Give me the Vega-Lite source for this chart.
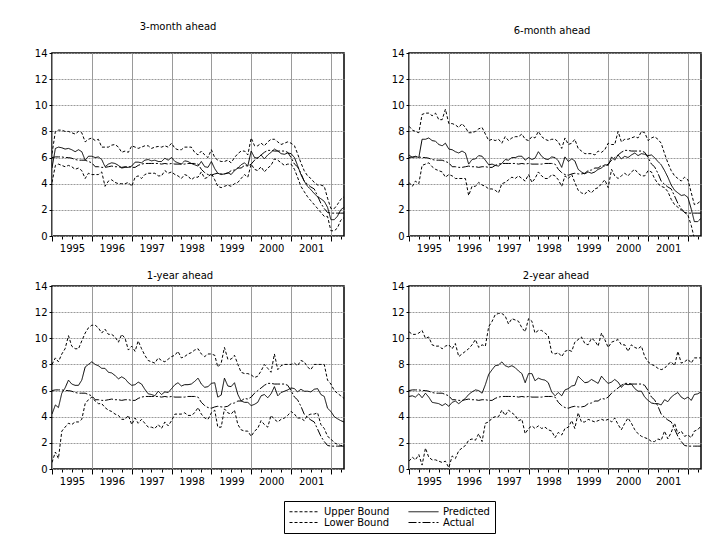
{
"$schema": "https://vega.github.io/schema/vega-lite/v6.json",
"padding": {"left": 33, "top": 21, "right": 5, "bottom": 2},
"background": "white",
"config": {
 "font": "DejaVu Sans",
 "view": {"stroke": "black", "strokeWidth": 1.5},
 "axis": {"labelFont": "DejaVu Sans", "labelFontSize": 10, "labelColor": "black", "tickColor": "black", "tickWidth": 1, "labelPadding": 2, "title": null, "domain": false},
 "title": {"font": "DejaVu Sans", "fontSize": 10, "fontWeight": "normal", "color": "black", "anchor": "middle"},
 "legend": {"title": null, "columns": 2, "direction": "horizontal", "symbolType": "M-3,0H3", "symbolSize": 100, "symbolOffset": 10, "symbolStrokeWidth": 1, "symbolStrokeColor": "black", "symbolFillColor": "transparent", "strokeColor": "black", "padding": 5, "labelFont": "DejaVu Sans", "labelFontSize": 10, "labelColor": "black", "columnPadding": 16, "rowPadding": -1, "labelOffset": 14}
},
"datasets": {
"p1": [
{"d":"1995-01","u":6.3,"p":5.2,"l":4.1,"a":6.0},
{"d":"1995-02","u":8.0,"p":6.7,"l":5.4,"a":6.05},
{"d":"1995-03","u":8.1,"p":6.8,"l":5.5,"a":6.05},
{"d":"1995-04","u":8.1,"p":6.75,"l":5.4,"a":6.05},
{"d":"1995-05","u":8.0,"p":6.65,"l":5.3,"a":6.0},
{"d":"1995-06","u":8.0,"p":6.7,"l":5.4,"a":6.0},
{"d":"1995-07","u":7.9,"p":6.6,"l":5.3,"a":5.95},
{"d":"1995-08","u":7.8,"p":6.45,"l":5.1,"a":5.85},
{"d":"1995-09","u":8.0,"p":6.6,"l":5.2,"a":5.8},
{"d":"1995-10","u":7.9,"p":6.45,"l":5.0,"a":5.8},
{"d":"1995-11","u":7.2,"p":5.8,"l":4.4,"a":5.8},
{"d":"1995-12","u":7.4,"p":6.1,"l":4.8,"a":5.7},
{"d":"1996-01","u":7.5,"p":6.1,"l":4.7,"a":5.6},
{"d":"1996-02","u":7.3,"p":6.0,"l":4.7,"a":5.3},
{"d":"1996-03","u":7.4,"p":6.05,"l":4.7,"a":5.3},
{"d":"1996-04","u":6.8,"p":5.85,"l":4.9,"a":5.25},
{"d":"1996-05","u":6.8,"p":5.3,"l":3.8,"a":5.25},
{"d":"1996-06","u":6.8,"p":5.5,"l":4.2,"a":5.3},
{"d":"1996-07","u":6.95,"p":5.6,"l":4.3,"a":5.35},
{"d":"1996-08","u":7.0,"p":5.55,"l":4.1,"a":5.3},
{"d":"1996-09","u":6.8,"p":5.4,"l":4.0,"a":5.3},
{"d":"1996-10","u":6.4,"p":5.2,"l":4.0,"a":5.25},
{"d":"1996-11","u":6.5,"p":5.25,"l":4.0,"a":5.3},
{"d":"1996-12","u":6.4,"p":5.25,"l":4.1,"a":5.3},
{"d":"1997-01","u":6.9,"p":5.35,"l":3.8,"a":5.25},
{"d":"1997-02","u":6.8,"p":5.65,"l":4.5,"a":5.25},
{"d":"1997-03","u":6.7,"p":5.65,"l":4.6,"a":5.4},
{"d":"1997-04","u":6.8,"p":5.6,"l":4.4,"a":5.5},
{"d":"1997-05","u":6.9,"p":5.8,"l":4.7,"a":5.55},
{"d":"1997-06","u":6.9,"p":5.85,"l":4.8,"a":5.55},
{"d":"1997-07","u":6.7,"p":5.75,"l":4.8,"a":5.55},
{"d":"1997-08","u":6.8,"p":5.8,"l":4.8,"a":5.55},
{"d":"1997-09","u":6.85,"p":5.7,"l":4.6,"a":5.55},
{"d":"1997-10","u":6.8,"p":5.7,"l":4.6,"a":5.5},
{"d":"1997-11","u":6.9,"p":5.95,"l":5.0,"a":5.55},
{"d":"1997-12","u":6.8,"p":5.8,"l":4.8,"a":5.5},
{"d":"1998-01","u":7.1,"p":6.0,"l":4.9,"a":5.55},
{"d":"1998-02","u":6.7,"p":5.7,"l":4.7,"a":5.5},
{"d":"1998-03","u":6.6,"p":5.6,"l":4.6,"a":5.5},
{"d":"1998-04","u":6.6,"p":5.5,"l":4.4,"a":5.5},
{"d":"1998-05","u":6.8,"p":5.75,"l":4.7,"a":5.5},
{"d":"1998-06","u":6.8,"p":5.7,"l":4.6,"a":5.55},
{"d":"1998-07","u":6.8,"p":5.55,"l":4.3,"a":5.55},
{"d":"1998-08","u":6.4,"p":5.45,"l":4.5,"a":5.55},
{"d":"1998-09","u":6.2,"p":5.35,"l":4.5,"a":5.5},
{"d":"1998-10","u":6.5,"p":5.7,"l":4.9,"a":5.1},
{"d":"1998-11","u":6.2,"p":5.3,"l":4.4,"a":4.85},
{"d":"1998-12","u":6.0,"p":5.25,"l":4.5,"a":4.7},
{"d":"1999-01","u":6.6,"p":5.7,"l":4.8,"a":4.65},
{"d":"1999-02","u":6.0,"p":5.15,"l":4.3,"a":4.75},
{"d":"1999-03","u":5.8,"p":4.8,"l":3.8,"a":4.8},
{"d":"1999-04","u":5.7,"p":4.7,"l":3.7,"a":4.75},
{"d":"1999-05","u":5.7,"p":4.75,"l":3.8,"a":4.75},
{"d":"1999-06","u":5.8,"p":4.85,"l":3.9,"a":4.8},
{"d":"1999-07","u":5.6,"p":4.7,"l":3.8,"a":5.0},
{"d":"1999-08","u":6.0,"p":5.0,"l":4.0,"a":5.05},
{"d":"1999-09","u":6.3,"p":5.2,"l":4.1,"a":5.2},
{"d":"1999-10","u":6.5,"p":5.45,"l":4.4,"a":5.2},
{"d":"1999-11","u":6.5,"p":5.6,"l":4.7,"a":5.4},
{"d":"1999-12","u":6.2,"p":5.35,"l":4.5,"a":5.35},
{"d":"2000-01","u":7.5,"p":6.5,"l":5.5,"a":5.5},
{"d":"2000-02","u":6.9,"p":6.0,"l":5.1,"a":5.8},
{"d":"2000-03","u":6.9,"p":5.95,"l":5.0,"a":6.0},
{"d":"2000-04","u":7.1,"p":6.2,"l":5.3,"a":6.2},
{"d":"2000-05","u":6.9,"p":5.9,"l":4.9,"a":6.4},
{"d":"2000-06","u":7.2,"p":6.2,"l":5.2,"a":6.55},
{"d":"2000-07","u":7.4,"p":6.4,"l":5.4,"a":6.55},
{"d":"2000-08","u":7.4,"p":6.65,"l":5.9,"a":6.5},
{"d":"2000-09","u":7.2,"p":6.5,"l":5.8,"a":6.5},
{"d":"2000-10","u":7.0,"p":6.3,"l":5.6,"a":6.5},
{"d":"2000-11","u":7.1,"p":6.25,"l":5.4,"a":6.5},
{"d":"2000-12","u":7.2,"p":6.35,"l":5.5,"a":6.4},
{"d":"2001-01","u":7.1,"p":6.3,"l":5.5,"a":6.0},
{"d":"2001-02","u":6.9,"p":6.0,"l":5.1,"a":5.5},
{"d":"2001-03","u":6.3,"p":5.4,"l":4.5,"a":5.3},
{"d":"2001-04","u":5.6,"p":4.7,"l":3.8,"a":4.8},
{"d":"2001-05","u":5.0,"p":4.2,"l":3.4,"a":4.2},
{"d":"2001-06","u":4.6,"p":3.8,"l":3.0,"a":3.95},
{"d":"2001-07","u":4.4,"p":3.55,"l":2.7,"a":3.75},
{"d":"2001-08","u":4.1,"p":3.25,"l":2.4,"a":3.6},
{"d":"2001-09","u":3.9,"p":3.0,"l":2.1,"a":3.05},
{"d":"2001-10","u":3.9,"p":2.85,"l":1.8,"a":2.5},
{"d":"2001-11","u":3.8,"p":2.65,"l":1.5,"a":2.1},
{"d":"2001-12","u":2.9,"p":2.2,"l":1.5,"a":1.8},
{"d":"2002-01","u":2.1,"p":1.25,"l":0.4,"a":1.75},
{"d":"2002-02","u":2.1,"p":1.25,"l":0.4,"a":1.75},
{"d":"2002-03","u":2.4,"p":1.5,"l":0.6,"a":1.75},
{"d":"2002-04","u":2.8,"p":2.0,"l":1.2,"a":1.75},
{"d":"2002-05","u":3.0,"p":2.2,"l":1.4,"a":1.75}
],
"p2": [
{"d":"1995-01","u":8.4,"p":6.2,"l":4.1,"a":6.0},
{"d":"1995-02","u":8.1,"p":6.0,"l":3.8,"a":6.05},
{"d":"1995-03","u":8.0,"p":6.1,"l":4.2,"a":6.05},
{"d":"1995-04","u":7.9,"p":6.0,"l":4.0,"a":6.05},
{"d":"1995-05","u":9.3,"p":7.4,"l":5.4,"a":6.0},
{"d":"1995-06","u":9.4,"p":7.4,"l":5.5,"a":6.0},
{"d":"1995-07","u":9.4,"p":7.5,"l":5.6,"a":5.95},
{"d":"1995-08","u":9.2,"p":7.3,"l":5.3,"a":5.85},
{"d":"1995-09","u":9.4,"p":7.25,"l":5.1,"a":5.8},
{"d":"1995-10","u":8.9,"p":7.0,"l":5.0,"a":5.8},
{"d":"1995-11","u":8.9,"p":6.9,"l":4.9,"a":5.8},
{"d":"1995-12","u":9.7,"p":7.1,"l":4.5,"a":5.7},
{"d":"1996-01","u":8.6,"p":6.65,"l":4.7,"a":5.6},
{"d":"1996-02","u":8.6,"p":6.6,"l":4.6,"a":5.3},
{"d":"1996-03","u":8.5,"p":6.45,"l":4.4,"a":5.3},
{"d":"1996-04","u":8.3,"p":6.35,"l":4.4,"a":5.25},
{"d":"1996-05","u":8.6,"p":6.5,"l":4.4,"a":5.25},
{"d":"1996-06","u":8.3,"p":6.35,"l":4.4,"a":5.3},
{"d":"1996-07","u":7.9,"p":5.5,"l":3.1,"a":5.35},
{"d":"1996-08","u":7.9,"p":5.85,"l":3.8,"a":5.3},
{"d":"1996-09","u":8.0,"p":5.9,"l":3.8,"a":5.3},
{"d":"1996-10","u":8.2,"p":6.15,"l":4.1,"a":5.25},
{"d":"1996-11","u":8.3,"p":6.1,"l":3.9,"a":5.3},
{"d":"1996-12","u":7.8,"p":5.8,"l":3.8,"a":5.3},
{"d":"1997-01","u":7.3,"p":5.45,"l":3.6,"a":5.25},
{"d":"1997-02","u":7.4,"p":5.5,"l":3.6,"a":5.25},
{"d":"1997-03","u":7.3,"p":5.4,"l":3.5,"a":5.4},
{"d":"1997-04","u":7.4,"p":5.35,"l":3.3,"a":5.5},
{"d":"1997-05","u":7.1,"p":5.55,"l":4.0,"a":5.55},
{"d":"1997-06","u":7.6,"p":5.85,"l":4.1,"a":5.55},
{"d":"1997-07","u":7.3,"p":5.8,"l":4.3,"a":5.55},
{"d":"1997-08","u":7.5,"p":6.0,"l":4.5,"a":5.55},
{"d":"1997-09","u":7.6,"p":6.0,"l":4.4,"a":5.55},
{"d":"1997-10","u":7.6,"p":6.1,"l":4.6,"a":5.5},
{"d":"1997-11","u":7.8,"p":6.1,"l":4.4,"a":5.55},
{"d":"1997-12","u":7.4,"p":5.8,"l":4.2,"a":5.5},
{"d":"1998-01","u":7.3,"p":6.0,"l":4.7,"a":5.55},
{"d":"1998-02","u":7.6,"p":5.85,"l":4.1,"a":5.5},
{"d":"1998-03","u":7.5,"p":5.95,"l":4.4,"a":5.5},
{"d":"1998-04","u":8.0,"p":6.45,"l":4.9,"a":5.5},
{"d":"1998-05","u":7.6,"p":6.1,"l":4.6,"a":5.5},
{"d":"1998-06","u":7.4,"p":5.9,"l":4.4,"a":5.55},
{"d":"1998-07","u":7.3,"p":5.85,"l":4.4,"a":5.55},
{"d":"1998-08","u":7.4,"p":6.05,"l":4.7,"a":5.55},
{"d":"1998-09","u":7.4,"p":6.0,"l":4.6,"a":5.5},
{"d":"1998-10","u":7.2,"p":5.75,"l":4.3,"a":5.1},
{"d":"1998-11","u":6.7,"p":5.25,"l":3.8,"a":4.85},
{"d":"1998-12","u":7.5,"p":6.05,"l":4.6,"a":4.7},
{"d":"1999-01","u":7.0,"p":5.7,"l":4.4,"a":4.65},
{"d":"1999-02","u":7.1,"p":5.9,"l":4.7,"a":4.75},
{"d":"1999-03","u":7.4,"p":5.75,"l":4.1,"a":4.8},
{"d":"1999-04","u":6.7,"p":5.1,"l":3.5,"a":4.75},
{"d":"1999-05","u":6.5,"p":4.9,"l":3.3,"a":4.75},
{"d":"1999-06","u":6.3,"p":4.75,"l":3.2,"a":4.8},
{"d":"1999-07","u":6.3,"p":4.9,"l":3.5,"a":5.0},
{"d":"1999-08","u":6.3,"p":4.8,"l":3.3,"a":5.05},
{"d":"1999-09","u":6.2,"p":4.9,"l":3.6,"a":5.2},
{"d":"1999-10","u":6.5,"p":5.1,"l":3.7,"a":5.2},
{"d":"1999-11","u":6.4,"p":5.2,"l":4.0,"a":5.4},
{"d":"1999-12","u":6.6,"p":5.45,"l":4.3,"a":5.35},
{"d":"2000-01","u":7.1,"p":5.4,"l":3.7,"a":5.5},
{"d":"2000-02","u":7.0,"p":6.05,"l":5.1,"a":5.8},
{"d":"2000-03","u":7.0,"p":5.8,"l":4.6,"a":6.0},
{"d":"2000-04","u":8.0,"p":6.2,"l":4.4,"a":6.2},
{"d":"2000-05","u":7.2,"p":5.9,"l":4.6,"a":6.4},
{"d":"2000-06","u":7.4,"p":6.1,"l":4.8,"a":6.55},
{"d":"2000-07","u":7.4,"p":6.0,"l":4.6,"a":6.55},
{"d":"2000-08","u":7.5,"p":6.2,"l":4.9,"a":6.5},
{"d":"2000-09","u":7.6,"p":6.35,"l":5.1,"a":6.5},
{"d":"2000-10","u":7.5,"p":6.15,"l":4.8,"a":6.5},
{"d":"2000-11","u":8.0,"p":6.3,"l":4.6,"a":6.5},
{"d":"2000-12","u":7.9,"p":6.25,"l":4.6,"a":6.4},
{"d":"2001-01","u":7.3,"p":6.15,"l":5.0,"a":6.0},
{"d":"2001-02","u":7.5,"p":6.2,"l":4.9,"a":5.5},
{"d":"2001-03","u":7.6,"p":6.0,"l":4.4,"a":5.3},
{"d":"2001-04","u":7.4,"p":5.7,"l":4.0,"a":4.8},
{"d":"2001-05","u":7.1,"p":5.45,"l":3.8,"a":4.2},
{"d":"2001-06","u":6.3,"p":5.0,"l":3.7,"a":3.95},
{"d":"2001-07","u":5.6,"p":4.5,"l":3.4,"a":3.75},
{"d":"2001-08","u":5.0,"p":3.9,"l":2.8,"a":3.6},
{"d":"2001-09","u":4.6,"p":3.5,"l":2.4,"a":3.05},
{"d":"2001-10","u":4.4,"p":3.3,"l":2.2,"a":2.5},
{"d":"2001-11","u":4.2,"p":3.1,"l":2.0,"a":2.1},
{"d":"2001-12","u":4.5,"p":3.15,"l":1.8,"a":1.8},
{"d":"2002-01","u":4.3,"p":2.95,"l":1.6,"a":1.75},
{"d":"2002-02","u":3.3,"p":2.05,"l":0.8,"a":1.75},
{"d":"2002-03","u":2.4,"p":1.1,"l":-0.2,"a":1.75},
{"d":"2002-04","u":2.5,"p":1.1,"l":-0.3,"a":1.75},
{"d":"2002-05","u":2.7,"p":1.35,"l":0.0,"a":1.75}
],
"p3": [
{"d":"1995-01","u":8.0,"p":4.2,"l":0.5,"a":6.0},
{"d":"1995-02","u":8.5,"p":4.9,"l":1.3,"a":6.05},
{"d":"1995-03","u":8.2,"p":4.7,"l":0.8,"a":6.05},
{"d":"1995-04","u":8.8,"p":5.8,"l":2.9,"a":6.05},
{"d":"1995-05","u":9.2,"p":6.2,"l":3.2,"a":6.0},
{"d":"1995-06","u":10.2,"p":6.8,"l":3.5,"a":6.0},
{"d":"1995-07","u":9.4,"p":6.5,"l":3.4,"a":5.95},
{"d":"1995-08","u":9.2,"p":6.4,"l":3.6,"a":5.85},
{"d":"1995-09","u":9.2,"p":6.4,"l":3.6,"a":5.8},
{"d":"1995-10","u":9.8,"p":6.8,"l":3.8,"a":5.8},
{"d":"1995-11","u":10.4,"p":7.8,"l":5.0,"a":5.8},
{"d":"1995-12","u":10.8,"p":8.0,"l":5.3,"a":5.7},
{"d":"1996-01","u":11.0,"p":8.2,"l":5.5,"a":5.6},
{"d":"1996-02","u":11.0,"p":8.0,"l":5.2,"a":5.3},
{"d":"1996-03","u":10.8,"p":7.9,"l":5.0,"a":5.3},
{"d":"1996-04","u":10.4,"p":7.7,"l":5.0,"a":5.25},
{"d":"1996-05","u":10.7,"p":7.7,"l":4.7,"a":5.25},
{"d":"1996-06","u":10.3,"p":7.4,"l":4.5,"a":5.3},
{"d":"1996-07","u":10.3,"p":7.35,"l":4.4,"a":5.35},
{"d":"1996-08","u":10.1,"p":7.15,"l":4.2,"a":5.3},
{"d":"1996-09","u":9.7,"p":6.9,"l":4.1,"a":5.3},
{"d":"1996-10","u":10.3,"p":7.05,"l":3.8,"a":5.25},
{"d":"1996-11","u":10.0,"p":6.9,"l":3.8,"a":5.3},
{"d":"1996-12","u":9.1,"p":6.6,"l":4.1,"a":5.3},
{"d":"1997-01","u":9.4,"p":6.4,"l":3.4,"a":5.25},
{"d":"1997-02","u":9.0,"p":6.45,"l":3.9,"a":5.25},
{"d":"1997-03","u":9.8,"p":6.65,"l":3.5,"a":5.4},
{"d":"1997-04","u":9.2,"p":6.5,"l":3.8,"a":5.5},
{"d":"1997-05","u":8.7,"p":6.1,"l":3.5,"a":5.55},
{"d":"1997-06","u":8.3,"p":5.75,"l":3.2,"a":5.55},
{"d":"1997-07","u":8.2,"p":5.7,"l":3.2,"a":5.55},
{"d":"1997-08","u":8.1,"p":5.6,"l":3.1,"a":5.55},
{"d":"1997-09","u":8.5,"p":5.95,"l":3.4,"a":5.55},
{"d":"1997-10","u":8.3,"p":5.7,"l":3.1,"a":5.5},
{"d":"1997-11","u":8.2,"p":5.9,"l":3.6,"a":5.55},
{"d":"1997-12","u":8.4,"p":5.85,"l":3.3,"a":5.5},
{"d":"1998-01","u":8.6,"p":6.15,"l":3.7,"a":5.55},
{"d":"1998-02","u":8.7,"p":6.45,"l":4.2,"a":5.5},
{"d":"1998-03","u":9.0,"p":6.6,"l":4.2,"a":5.5},
{"d":"1998-04","u":8.5,"p":6.35,"l":4.2,"a":5.5},
{"d":"1998-05","u":8.6,"p":6.45,"l":4.3,"a":5.5},
{"d":"1998-06","u":8.8,"p":6.45,"l":4.1,"a":5.55},
{"d":"1998-07","u":8.9,"p":6.5,"l":4.1,"a":5.55},
{"d":"1998-08","u":9.1,"p":6.7,"l":4.3,"a":5.55},
{"d":"1998-09","u":9.2,"p":6.95,"l":4.7,"a":5.5},
{"d":"1998-10","u":8.8,"p":6.5,"l":4.2,"a":5.1},
{"d":"1998-11","u":8.6,"p":6.25,"l":3.9,"a":4.85},
{"d":"1998-12","u":8.8,"p":6.3,"l":3.8,"a":4.7},
{"d":"1999-01","u":8.8,"p":6.55,"l":4.3,"a":4.65},
{"d":"1999-02","u":8.7,"p":6.6,"l":4.5,"a":4.75},
{"d":"1999-03","u":7.8,"p":5.5,"l":3.2,"a":4.8},
{"d":"1999-04","u":8.1,"p":5.65,"l":3.2,"a":4.75},
{"d":"1999-05","u":9.3,"p":6.95,"l":4.6,"a":4.75},
{"d":"1999-06","u":8.4,"p":6.35,"l":4.3,"a":4.8},
{"d":"1999-07","u":8.4,"p":6.3,"l":4.2,"a":5.0},
{"d":"1999-08","u":8.7,"p":6.6,"l":4.5,"a":5.05},
{"d":"1999-09","u":8.0,"p":5.7,"l":3.4,"a":5.2},
{"d":"1999-10","u":7.4,"p":5.2,"l":3.0,"a":5.2},
{"d":"1999-11","u":7.3,"p":5.1,"l":2.9,"a":5.4},
{"d":"1999-12","u":7.3,"p":5.1,"l":2.9,"a":5.35},
{"d":"2000-01","u":7.2,"p":4.85,"l":2.5,"a":5.5},
{"d":"2000-02","u":7.0,"p":4.95,"l":2.9,"a":5.8},
{"d":"2000-03","u":7.1,"p":5.1,"l":3.1,"a":6.0},
{"d":"2000-04","u":7.5,"p":5.6,"l":3.7,"a":6.2},
{"d":"2000-05","u":8.0,"p":5.7,"l":3.4,"a":6.4},
{"d":"2000-06","u":7.7,"p":5.45,"l":3.2,"a":6.55},
{"d":"2000-07","u":7.4,"p":5.75,"l":4.1,"a":6.55},
{"d":"2000-08","u":8.8,"p":6.3,"l":3.8,"a":6.5},
{"d":"2000-09","u":7.6,"p":5.6,"l":3.6,"a":6.5},
{"d":"2000-10","u":7.9,"p":5.85,"l":3.8,"a":6.5},
{"d":"2000-11","u":8.0,"p":5.95,"l":3.9,"a":6.5},
{"d":"2000-12","u":8.0,"p":6.05,"l":4.1,"a":6.4},
{"d":"2001-01","u":8.0,"p":6.2,"l":4.4,"a":6.0},
{"d":"2001-02","u":8.1,"p":6.15,"l":4.2,"a":5.5},
{"d":"2001-03","u":7.9,"p":5.9,"l":3.9,"a":5.3},
{"d":"2001-04","u":8.3,"p":6.1,"l":3.9,"a":4.8},
{"d":"2001-05","u":8.2,"p":5.95,"l":3.7,"a":4.2},
{"d":"2001-06","u":7.8,"p":5.95,"l":4.1,"a":3.95},
{"d":"2001-07","u":7.6,"p":5.9,"l":4.2,"a":3.75},
{"d":"2001-08","u":8.0,"p":6.1,"l":4.2,"a":3.6},
{"d":"2001-09","u":8.0,"p":6.15,"l":4.3,"a":3.05},
{"d":"2001-10","u":8.0,"p":5.7,"l":3.4,"a":2.5},
{"d":"2001-11","u":8.0,"p":5.55,"l":3.1,"a":2.1},
{"d":"2001-12","u":6.8,"p":4.65,"l":2.5,"a":1.8},
{"d":"2002-01","u":6.5,"p":4.4,"l":2.3,"a":1.75},
{"d":"2002-02","u":6.0,"p":4.0,"l":2.0,"a":1.75},
{"d":"2002-03","u":5.8,"p":3.85,"l":1.9,"a":1.75},
{"d":"2002-04","u":5.6,"p":3.7,"l":1.8,"a":1.75},
{"d":"2002-05","u":5.4,"p":3.6,"l":1.8,"a":1.75}
],
"p4": [
{"d":"1995-01","u":10.5,"p":5.55,"l":0.6,"a":6.0},
{"d":"1995-02","u":10.3,"p":5.6,"l":0.9,"a":6.05},
{"d":"1995-03","u":10.3,"p":5.5,"l":0.7,"a":6.05},
{"d":"1995-04","u":10.4,"p":5.75,"l":1.1,"a":6.05},
{"d":"1995-05","u":10.6,"p":5.45,"l":0.3,"a":6.0},
{"d":"1995-06","u":10.0,"p":5.8,"l":1.6,"a":6.0},
{"d":"1995-07","u":10.1,"p":5.5,"l":0.9,"a":5.95},
{"d":"1995-08","u":9.5,"p":5.1,"l":0.7,"a":5.85},
{"d":"1995-09","u":9.4,"p":5.05,"l":0.7,"a":5.8},
{"d":"1995-10","u":9.4,"p":5.0,"l":0.6,"a":5.8},
{"d":"1995-11","u":9.2,"p":4.85,"l":0.5,"a":5.8},
{"d":"1995-12","u":9.4,"p":5.0,"l":0.6,"a":5.7},
{"d":"1996-01","u":9.5,"p":4.8,"l":0.1,"a":5.6},
{"d":"1996-02","u":9.2,"p":5.1,"l":1.0,"a":5.3},
{"d":"1996-03","u":9.6,"p":5.2,"l":0.8,"a":5.3},
{"d":"1996-04","u":8.6,"p":5.0,"l":1.4,"a":5.25},
{"d":"1996-05","u":8.8,"p":5.2,"l":1.6,"a":5.25},
{"d":"1996-06","u":9.0,"p":5.4,"l":1.8,"a":5.3},
{"d":"1996-07","u":9.2,"p":5.7,"l":2.2,"a":5.35},
{"d":"1996-08","u":9.5,"p":5.9,"l":2.3,"a":5.3},
{"d":"1996-09","u":9.9,"p":6.05,"l":2.2,"a":5.3},
{"d":"1996-10","u":9.3,"p":6.0,"l":2.7,"a":5.25},
{"d":"1996-11","u":9.5,"p":5.8,"l":2.1,"a":5.3},
{"d":"1996-12","u":9.4,"p":6.45,"l":3.5,"a":5.3},
{"d":"1997-01","u":10.9,"p":7.25,"l":3.6,"a":5.25},
{"d":"1997-02","u":11.3,"p":7.6,"l":3.9,"a":5.25},
{"d":"1997-03","u":11.8,"p":7.9,"l":4.0,"a":5.4},
{"d":"1997-04","u":11.9,"p":7.95,"l":4.0,"a":5.5},
{"d":"1997-05","u":11.9,"p":8.2,"l":4.5,"a":5.55},
{"d":"1997-06","u":11.7,"p":7.9,"l":4.1,"a":5.55},
{"d":"1997-07","u":11.1,"p":7.8,"l":4.5,"a":5.55},
{"d":"1997-08","u":11.5,"p":7.9,"l":4.3,"a":5.55},
{"d":"1997-09","u":11.4,"p":7.75,"l":4.1,"a":5.55},
{"d":"1997-10","u":11.3,"p":7.5,"l":3.7,"a":5.5},
{"d":"1997-11","u":10.8,"p":7.3,"l":3.8,"a":5.55},
{"d":"1997-12","u":10.5,"p":6.6,"l":2.7,"a":5.5},
{"d":"1998-01","u":11.5,"p":7.3,"l":3.1,"a":5.55},
{"d":"1998-02","u":11.3,"p":7.3,"l":3.3,"a":5.5},
{"d":"1998-03","u":10.4,"p":6.75,"l":3.1,"a":5.5},
{"d":"1998-04","u":10.6,"p":6.95,"l":3.3,"a":5.5},
{"d":"1998-05","u":10.6,"p":6.85,"l":3.1,"a":5.5},
{"d":"1998-06","u":10.4,"p":6.8,"l":3.2,"a":5.55},
{"d":"1998-07","u":10.2,"p":6.6,"l":3.0,"a":5.55},
{"d":"1998-08","u":8.9,"p":5.9,"l":2.9,"a":5.55},
{"d":"1998-09","u":8.8,"p":5.6,"l":2.4,"a":5.5},
{"d":"1998-10","u":8.9,"p":5.85,"l":2.8,"a":5.1},
{"d":"1998-11","u":8.6,"p":5.6,"l":2.6,"a":4.85},
{"d":"1998-12","u":9.0,"p":6.05,"l":3.1,"a":4.7},
{"d":"1999-01","u":9.1,"p":6.15,"l":3.2,"a":4.65},
{"d":"1999-02","u":9.0,"p":6.35,"l":3.7,"a":4.75},
{"d":"1999-03","u":9.7,"p":6.4,"l":3.1,"a":4.8},
{"d":"1999-04","u":9.9,"p":7.1,"l":4.3,"a":4.75},
{"d":"1999-05","u":10.1,"p":6.85,"l":3.6,"a":4.75},
{"d":"1999-06","u":9.6,"p":6.6,"l":3.6,"a":4.8},
{"d":"1999-07","u":9.5,"p":6.65,"l":3.8,"a":5.0},
{"d":"1999-08","u":10.0,"p":6.85,"l":3.7,"a":5.05},
{"d":"1999-09","u":9.8,"p":6.7,"l":3.6,"a":5.2},
{"d":"1999-10","u":9.4,"p":6.55,"l":3.7,"a":5.2},
{"d":"1999-11","u":10.4,"p":7.1,"l":3.8,"a":5.4},
{"d":"1999-12","u":9.9,"p":6.8,"l":3.7,"a":5.35},
{"d":"2000-01","u":9.3,"p":6.55,"l":3.8,"a":5.5},
{"d":"2000-02","u":9.7,"p":6.65,"l":3.6,"a":5.8},
{"d":"2000-03","u":9.8,"p":6.85,"l":3.9,"a":6.0},
{"d":"2000-04","u":9.9,"p":6.65,"l":3.4,"a":6.2},
{"d":"2000-05","u":9.5,"p":6.25,"l":3.0,"a":6.4},
{"d":"2000-06","u":9.5,"p":6.5,"l":3.5,"a":6.55},
{"d":"2000-07","u":9.0,"p":6.45,"l":3.9,"a":6.55},
{"d":"2000-08","u":9.5,"p":6.5,"l":3.5,"a":6.5},
{"d":"2000-09","u":9.3,"p":6.15,"l":3.0,"a":6.5},
{"d":"2000-10","u":9.2,"p":5.95,"l":2.7,"a":6.5},
{"d":"2000-11","u":9.4,"p":5.95,"l":2.5,"a":6.5},
{"d":"2000-12","u":8.6,"p":5.5,"l":2.4,"a":6.4},
{"d":"2001-01","u":8.2,"p":5.25,"l":2.3,"a":6.0},
{"d":"2001-02","u":8.0,"p":5.05,"l":2.1,"a":5.5},
{"d":"2001-03","u":7.9,"p":5.0,"l":2.1,"a":5.3},
{"d":"2001-04","u":7.7,"p":5.0,"l":2.3,"a":4.8},
{"d":"2001-05","u":7.6,"p":4.9,"l":2.2,"a":4.2},
{"d":"2001-06","u":7.7,"p":5.3,"l":2.9,"a":3.95},
{"d":"2001-07","u":8.0,"p":5.15,"l":2.3,"a":3.75},
{"d":"2001-08","u":8.2,"p":5.5,"l":2.8,"a":3.6},
{"d":"2001-09","u":7.9,"p":5.7,"l":3.5,"a":3.05},
{"d":"2001-10","u":9.0,"p":5.85,"l":2.7,"a":2.5},
{"d":"2001-11","u":8.1,"p":5.5,"l":2.9,"a":2.1},
{"d":"2001-12","u":8.2,"p":5.35,"l":2.5,"a":1.8},
{"d":"2002-01","u":8.4,"p":5.5,"l":2.6,"a":1.75},
{"d":"2002-02","u":8.1,"p":5.25,"l":2.4,"a":1.75},
{"d":"2002-03","u":8.5,"p":5.7,"l":2.9,"a":1.75},
{"d":"2002-04","u":8.5,"p":5.75,"l":3.0,"a":1.75},
{"d":"2002-05","u":8.5,"p":5.9,"l":3.3,"a":1.75}
]
},
"columns": 2,
"spacing": {"row": 16, "column": 38},
"resolve": {"scale": {"strokeDash": "shared"}, "legend": {"strokeDash": "shared"}},
"concat": [
{"title": {"text": "3-month ahead", "offset": 16, "dx": -20}, "width": 292, "height": 183, "data": {"name": "p1"},
 "transform": [{"fold": ["u","p","l","a"], "as": ["s","v"]}],
 "layer": [
  {"transform": [{"filter": "datum.s != 'a'"}], "mark": {"type": "line", "clip": true, "strokeWidth": 1, "color": "black"},
   "encoding": {
    "x": {"field": "d", "type": "temporal", "scale": {"type": "utc", "domain": [{"year":1995,"month":1,"date":1,"utc":true},{"year":2002,"month":5,"date":1,"utc":true}]},
          "axis": {"orient": "bottom", "values": [{"year":1995,"month":1,"date":1,"utc":true},{"year":1996,"month":1,"date":1,"utc":true},{"year":1997,"month":1,"date":1,"utc":true},{"year":1998,"month":1,"date":1,"utc":true},{"year":1999,"month":1,"date":1,"utc":true},{"year":2000,"month":1,"date":1,"utc":true},{"year":2001,"month":1,"date":1,"utc":true},{"year":2002,"month":1,"date":1,"utc":true}], "format": "%Y", "labelOffset": 20, "labelFlush": false, "labelOverlap": false, "labelExpr": "utcyear(datum.value) < 2002 ? datum.label : ''", "grid": true, "gridColor": "#9a9a9a", "tickSize": 5}},
    "y": {"field": "v", "type": "quantitative", "scale": {"domain": [0, 14], "nice": false}, "axis": {"values": [0,2,4,6,8,10,12,14], "grid": true, "gridDash": [2,1], "gridColor": "#9a9a9a", "tickSize": 3}},
    "strokeDash": {"field": "s", "type": "nominal", "scale": {"domain": ["u","p","l","a"], "range": [[3,2],[1,0],[3,2],[8,2,2,2]]},
          "legend": {"orient": "none", "legendX": 232, "legendY": 448, "labelExpr": "datum.label == 'u' ? 'Upper Bound' : datum.label == 'p' ? 'Predicted' : datum.label == 'l' ? 'Lower Bound' : 'Actual'"}}
   }},
  {"transform": [{"filter": "datum.s == 'a'"}], "mark": {"type": "line", "clip": true, "strokeWidth": 1, "color": "black"},
   "encoding": {
    "x": {"field": "d", "type": "temporal", "scale": {"type": "utc", "domain": [{"year":1995,"month":1,"date":1,"utc":true},{"year":2002,"month":5,"date":1,"utc":true}]},
          "axis": {"orient": "bottom", "tickCount": {"interval": "month", "step": 3}, "labels": false, "grid": false, "tickSize": 3}},
    "y": {"field": "v", "type": "quantitative", "scale": {"domain": [0, 14], "nice": false}, "axis": {"values": [0,2,4,6,8,10,12,14], "grid": true, "gridDash": [2,1], "gridColor": "#9a9a9a", "tickSize": 3}},
    "strokeDash": {"field": "s", "type": "nominal", "scale": {"domain": ["u","p","l","a"], "range": [[3,2],[1,0],[3,2],[8,2,2,2]]},
          "legend": {"orient": "none", "legendX": 232, "legendY": 448, "labelExpr": "datum.label == 'u' ? 'Upper Bound' : datum.label == 'p' ? 'Predicted' : datum.label == 'l' ? 'Lower Bound' : 'Actual'"}}
   }}
 ],
 "resolve": {"axis": {"x": "independent"}}
},
{"title": {"text": "6-month ahead", "offset": 12, "dx": -3}, "width": 292, "height": 183, "data": {"name": "p2"},
 "transform": [{"fold": ["u","p","l","a"], "as": ["s","v"]}],
 "layer": [
  {"transform": [{"filter": "datum.s != 'a'"}], "mark": {"type": "line", "clip": true, "strokeWidth": 1, "color": "black"},
   "encoding": {
    "x": {"field": "d", "type": "temporal", "scale": {"type": "utc", "domain": [{"year":1995,"month":1,"date":1,"utc":true},{"year":2002,"month":5,"date":1,"utc":true}]},
          "axis": {"orient": "bottom", "values": [{"year":1995,"month":1,"date":1,"utc":true},{"year":1996,"month":1,"date":1,"utc":true},{"year":1997,"month":1,"date":1,"utc":true},{"year":1998,"month":1,"date":1,"utc":true},{"year":1999,"month":1,"date":1,"utc":true},{"year":2000,"month":1,"date":1,"utc":true},{"year":2001,"month":1,"date":1,"utc":true},{"year":2002,"month":1,"date":1,"utc":true}], "format": "%Y", "labelOffset": 20, "labelFlush": false, "labelOverlap": false, "labelExpr": "utcyear(datum.value) < 2002 ? datum.label : ''", "grid": true, "gridColor": "#9a9a9a", "tickSize": 5}},
    "y": {"field": "v", "type": "quantitative", "scale": {"domain": [0, 14], "nice": false}, "axis": {"values": [0,2,4,6,8,10,12,14], "grid": true, "gridDash": [2,1], "gridColor": "#9a9a9a", "tickSize": 3}},
    "strokeDash": {"field": "s", "type": "nominal", "scale": {"domain": ["u","p","l","a"], "range": [[3,2],[1,0],[3,2],[8,2,2,2]]},
          "legend": {"orient": "none", "legendX": 232, "legendY": 448, "labelExpr": "datum.label == 'u' ? 'Upper Bound' : datum.label == 'p' ? 'Predicted' : datum.label == 'l' ? 'Lower Bound' : 'Actual'"}}
   }},
  {"transform": [{"filter": "datum.s == 'a'"}], "mark": {"type": "line", "clip": true, "strokeWidth": 1, "color": "black"},
   "encoding": {
    "x": {"field": "d", "type": "temporal", "scale": {"type": "utc", "domain": [{"year":1995,"month":1,"date":1,"utc":true},{"year":2002,"month":5,"date":1,"utc":true}]},
          "axis": {"orient": "bottom", "tickCount": {"interval": "month", "step": 3}, "labels": false, "grid": false, "tickSize": 3}},
    "y": {"field": "v", "type": "quantitative", "scale": {"domain": [0, 14], "nice": false}, "axis": {"values": [0,2,4,6,8,10,12,14], "grid": true, "gridDash": [2,1], "gridColor": "#9a9a9a", "tickSize": 3}},
    "strokeDash": {"field": "s", "type": "nominal", "scale": {"domain": ["u","p","l","a"], "range": [[3,2],[1,0],[3,2],[8,2,2,2]]},
          "legend": {"orient": "none", "legendX": 232, "legendY": 448, "labelExpr": "datum.label == 'u' ? 'Upper Bound' : datum.label == 'p' ? 'Predicted' : datum.label == 'l' ? 'Lower Bound' : 'Actual'"}}
   }}
 ],
 "resolve": {"axis": {"x": "independent"}}
},
{"title": {"text": "1-year ahead", "offset": 0, "dx": -18}, "width": 292, "height": 183, "data": {"name": "p3"},
 "transform": [{"fold": ["u","p","l","a"], "as": ["s","v"]}],
 "layer": [
  {"transform": [{"filter": "datum.s != 'a'"}], "mark": {"type": "line", "clip": true, "strokeWidth": 1, "color": "black"},
   "encoding": {
    "x": {"field": "d", "type": "temporal", "scale": {"type": "utc", "domain": [{"year":1995,"month":1,"date":1,"utc":true},{"year":2002,"month":5,"date":1,"utc":true}]},
          "axis": {"orient": "bottom", "values": [{"year":1995,"month":1,"date":1,"utc":true},{"year":1996,"month":1,"date":1,"utc":true},{"year":1997,"month":1,"date":1,"utc":true},{"year":1998,"month":1,"date":1,"utc":true},{"year":1999,"month":1,"date":1,"utc":true},{"year":2000,"month":1,"date":1,"utc":true},{"year":2001,"month":1,"date":1,"utc":true},{"year":2002,"month":1,"date":1,"utc":true}], "format": "%Y", "labelOffset": 20, "labelFlush": false, "labelOverlap": false, "labelExpr": "utcyear(datum.value) < 2002 ? datum.label : ''", "grid": true, "gridColor": "#9a9a9a", "tickSize": 5}},
    "y": {"field": "v", "type": "quantitative", "scale": {"domain": [0, 14], "nice": false}, "axis": {"values": [0,2,4,6,8,10,12,14], "grid": true, "gridDash": [2,1], "gridColor": "#9a9a9a", "tickSize": 3}},
    "strokeDash": {"field": "s", "type": "nominal", "scale": {"domain": ["u","p","l","a"], "range": [[3,2],[1,0],[3,2],[8,2,2,2]]},
          "legend": {"orient": "none", "legendX": 232, "legendY": 448, "labelExpr": "datum.label == 'u' ? 'Upper Bound' : datum.label == 'p' ? 'Predicted' : datum.label == 'l' ? 'Lower Bound' : 'Actual'"}}
   }},
  {"transform": [{"filter": "datum.s == 'a'"}], "mark": {"type": "line", "clip": true, "strokeWidth": 1, "color": "black"},
   "encoding": {
    "x": {"field": "d", "type": "temporal", "scale": {"type": "utc", "domain": [{"year":1995,"month":1,"date":1,"utc":true},{"year":2002,"month":5,"date":1,"utc":true}]},
          "axis": {"orient": "bottom", "tickCount": {"interval": "month", "step": 3}, "labels": false, "grid": false, "tickSize": 3}},
    "y": {"field": "v", "type": "quantitative", "scale": {"domain": [0, 14], "nice": false}, "axis": {"values": [0,2,4,6,8,10,12,14], "grid": true, "gridDash": [2,1], "gridColor": "#9a9a9a", "tickSize": 3}},
    "strokeDash": {"field": "s", "type": "nominal", "scale": {"domain": ["u","p","l","a"], "range": [[3,2],[1,0],[3,2],[8,2,2,2]]},
          "legend": {"orient": "none", "legendX": 232, "legendY": 448, "labelExpr": "datum.label == 'u' ? 'Upper Bound' : datum.label == 'p' ? 'Predicted' : datum.label == 'l' ? 'Lower Bound' : 'Actual'"}}
   }}
 ],
 "resolve": {"axis": {"x": "independent"}}
},
{"title": {"text": "2-year ahead", "offset": 0, "dx": 1}, "width": 292, "height": 183, "data": {"name": "p4"},
 "transform": [{"fold": ["u","p","l","a"], "as": ["s","v"]}],
 "layer": [
  {"transform": [{"filter": "datum.s != 'a'"}], "mark": {"type": "line", "clip": true, "strokeWidth": 1, "color": "black"},
   "encoding": {
    "x": {"field": "d", "type": "temporal", "scale": {"type": "utc", "domain": [{"year":1995,"month":1,"date":1,"utc":true},{"year":2002,"month":5,"date":1,"utc":true}]},
          "axis": {"orient": "bottom", "values": [{"year":1995,"month":1,"date":1,"utc":true},{"year":1996,"month":1,"date":1,"utc":true},{"year":1997,"month":1,"date":1,"utc":true},{"year":1998,"month":1,"date":1,"utc":true},{"year":1999,"month":1,"date":1,"utc":true},{"year":2000,"month":1,"date":1,"utc":true},{"year":2001,"month":1,"date":1,"utc":true},{"year":2002,"month":1,"date":1,"utc":true}], "format": "%Y", "labelOffset": 20, "labelFlush": false, "labelOverlap": false, "labelExpr": "utcyear(datum.value) < 2002 ? datum.label : ''", "grid": true, "gridColor": "#9a9a9a", "tickSize": 5}},
    "y": {"field": "v", "type": "quantitative", "scale": {"domain": [0, 14], "nice": false}, "axis": {"values": [0,2,4,6,8,10,12,14], "grid": true, "gridDash": [2,1], "gridColor": "#9a9a9a", "tickSize": 3}},
    "strokeDash": {"field": "s", "type": "nominal", "scale": {"domain": ["u","p","l","a"], "range": [[3,2],[1,0],[3,2],[8,2,2,2]]},
          "legend": {"orient": "none", "legendX": 232, "legendY": 448, "labelExpr": "datum.label == 'u' ? 'Upper Bound' : datum.label == 'p' ? 'Predicted' : datum.label == 'l' ? 'Lower Bound' : 'Actual'"}}
   }},
  {"transform": [{"filter": "datum.s == 'a'"}], "mark": {"type": "line", "clip": true, "strokeWidth": 1, "color": "black"},
   "encoding": {
    "x": {"field": "d", "type": "temporal", "scale": {"type": "utc", "domain": [{"year":1995,"month":1,"date":1,"utc":true},{"year":2002,"month":5,"date":1,"utc":true}]},
          "axis": {"orient": "bottom", "tickCount": {"interval": "month", "step": 3}, "labels": false, "grid": false, "tickSize": 3}},
    "y": {"field": "v", "type": "quantitative", "scale": {"domain": [0, 14], "nice": false}, "axis": {"values": [0,2,4,6,8,10,12,14], "grid": true, "gridDash": [2,1], "gridColor": "#9a9a9a", "tickSize": 3}},
    "strokeDash": {"field": "s", "type": "nominal", "scale": {"domain": ["u","p","l","a"], "range": [[3,2],[1,0],[3,2],[8,2,2,2]]},
          "legend": {"orient": "none", "legendX": 232, "legendY": 448, "labelExpr": "datum.label == 'u' ? 'Upper Bound' : datum.label == 'p' ? 'Predicted' : datum.label == 'l' ? 'Lower Bound' : 'Actual'"}}
   }}
 ],
 "resolve": {"axis": {"x": "independent"}}
}
]
}
